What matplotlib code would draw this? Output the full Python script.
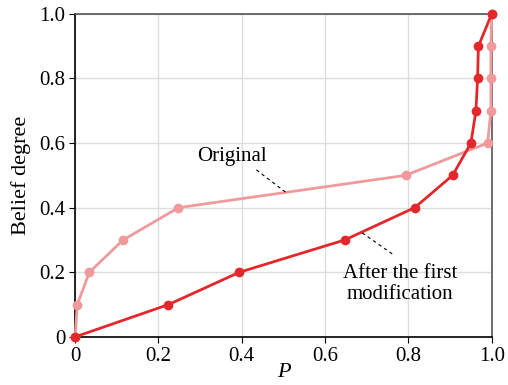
import matplotlib.pyplot as plt

# data
orig_p = [0.0, 0.005, 0.034, 0.115, 0.248, 0.793, 0.99, 0.998, 0.998, 0.998, 1.0]
orig_b = [0.0, 0.1, 0.2, 0.3, 0.4, 0.5, 0.6, 0.7, 0.8, 0.9, 1.0]
mod_p = [0.0, 0.224, 0.394, 0.647, 0.815, 0.906, 0.95, 0.962, 0.966, 0.968, 1.0]
mod_b = [0.0, 0.1, 0.2, 0.3, 0.4, 0.5, 0.6, 0.7, 0.8, 0.9, 1.0]
ticks = [0, 0.2, 0.4, 0.6, 0.8, 1.0]
tick_labels = ["0", "0.2", "0.4", "0.6", "0.8", "1.0"]

plt.rcParams['font.family'] = ['Liberation Serif', 'DejaVu Serif']

fig = plt.figure(figsize=(5.08, 3.85), dpi=100)
ax = fig.add_axes([0.148, 0.125, 0.820, 0.839])

ax.plot(orig_p, orig_b, color='#f09a9c', lw=2, marker='o', ms=6,
        clip_on=False, zorder=3)
ax.plot(mod_p, mod_b, color='#e3282c', lw=2, marker='o', ms=6,
        clip_on=False, zorder=4)

ax.set_xlim(0, 1)
ax.set_ylim(0, 1)
ax.set_xticks(ticks)
ax.set_xticklabels(tick_labels)
ax.set_yticks(ticks)
ax.set_yticklabels(tick_labels)
ax.tick_params(labelsize=15, length=4, direction='out', pad=3)
ax.grid(True, color='#dddddd', lw=1)
ax.set_axisbelow(True)
for s in ['left', 'bottom']:
    ax.spines[s].set_color('black')
    ax.spines[s].set_linewidth(1.2)
for s in ['top', 'right']:
    ax.spines[s].set_color('#555555')
    ax.spines[s].set_linewidth(1.2)

ax.set_xlabel('P', fontsize=16, style='italic', labelpad=-2)
ax.set_ylabel('Belief degree', fontsize=16, labelpad=6)

# annotations: text plus dashed leader lines
ax.text(0.376, 0.557, 'Original', fontsize=15, ha='center', va='center')
ax.plot([0.435, 0.507], [0.517, 0.446], color='black', lw=0.8,
        dashes=(3, 3), zorder=5)
ax.text(0.78, 0.164, 'After the first\nmodification', fontsize=15,
        ha='center', va='center', linespacing=1.1)
ax.plot([0.689, 0.761], [0.322, 0.257], color='black', lw=0.8,
        dashes=(3, 3), zorder=5)

fig.savefig('out.png', dpi=100)
